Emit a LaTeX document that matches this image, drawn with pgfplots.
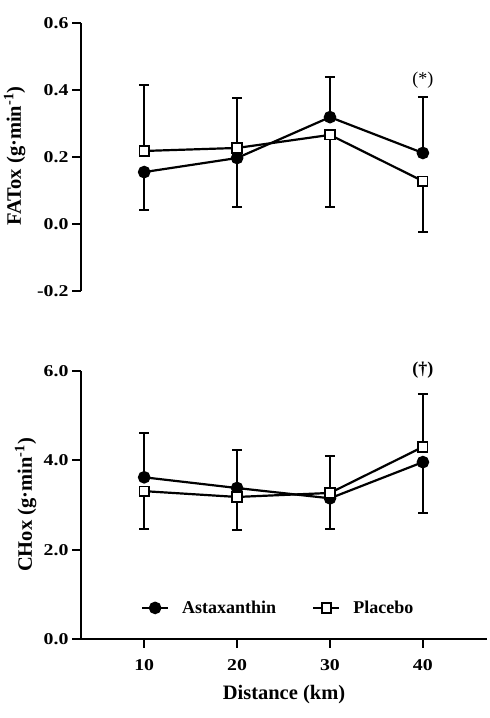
\documentclass[border=0pt]{standalone}
\usepackage{fontspec}
\setmainfont{Liberation Serif}
\newfontfamily\tickfont[FakeStretch=1.2]{Liberation Serif}
\usepackage{pgfplots}
\pgfplotsset{compat=1.18}

\pgfplotsset{
  panel/.style={
    scale only axis, width=406bp, height=268bp,
    xmin=3.2, xmax=46.9,
    clip=false,
    axis line style={line width=2.4bp, black},
    tick style={line width=2.2bp, black},
    major tick length=9bp,
    tick align=outside,
    ytick pos=left,
    ticklabel style={font=\tickfont\bfseries\fontsize{16.5bp}{19bp}\selectfont},
    yticklabel style={/pgf/number format/.cd, fixed, fixed zerofill, precision=1, assume math mode=true},
    xticklabel style={/pgf/number format/assume math mode=true},
    label style={font=\bfseries\fontsize{20.5bp}{24bp}\selectfont},
  },
  ast/.style={black, line width=2.2bp, mark=*, mark size=5.2bp, mark options={solid, fill=black}},
  pla/.style={black, line width=2.2bp, mark=square*, mark size=4.7bp, mark options={solid, fill=white, line width=1.8bp}},
  bars/.style={draw=none, forget plot, error bars/.cd, y explicit, y dir=#1,
    error bar style={draw=black, line width=2.2bp},
    error mark options={draw=black, line width=2.2bp, mark size=5bp, rotate=90}},
}

\begin{document}
\begin{tikzpicture}
\useasboundingbox (0,0) rectangle (490bp,718bp);

% FAT oxidation
\begin{axis}[panel,
  at={(81bp,427bp)}, anchor=south west,
  ymin=-0.2, ymax=0.6,
  ytick={-0.2,0,0.2,0.4,0.6},
  axis y line*=left, axis x line=none,
  ylabel={FATox (g·min\textsuperscript{-1})},
  ylabel style={at={(axis description cs:-0.148,0.504)}, anchor=base},
]
\addplot[bars=plus] coordinates {
  (10,0.218) +- (0,0.197)
  (20,0.227) +- (0,0.149)
  (30,0.319) +- (0,0.120)
  (40,0.212) +- (0,0.167)
};
\addplot[bars=minus] coordinates {
  (10,0.155) +- (0,0.113)
  (20,0.197) +- (0,0.146)
  (30,0.266) +- (0,0.215)
  (40,0.128) +- (0,0.152)
};
\addplot[ast] coordinates {(10,0.155) (20,0.197) (30,0.319) (40,0.212)};
\addplot[pla] coordinates {(10,0.218) (20,0.227) (30,0.266) (40,0.128)};
\node[font=\fontsize{18bp}{21bp}\selectfont] at (axis cs:40,0.43) {(*)};
\end{axis}

% CHO oxidation
\begin{axis}[panel,
  at={(81bp,79bp)}, anchor=south west,
  ymin=0, ymax=6,
  ytick={0,2,4,6},
  xtick={10,20,30,40},
  axis y line*=left, axis x line*=bottom,
  xtick pos=bottom,
  xticklabel style={yshift=-8bp},
  xlabel={Distance (km)},
  xlabel style={at={(axis description cs:0.5,-0.2276)}, anchor=base},
  ylabel={CHox (g·min\textsuperscript{-1})},
  ylabel style={at={(axis description cs:-0.1207,0.50)}, anchor=base},
  legend columns=2,
  legend style={at={(rel axis cs:0.14,0.116)}, anchor=west, draw=none, fill=none,
    font=\bfseries\fontsize{18bp}{21bp}\selectfont,
    /tikz/every odd column/.append style={column sep=11bp},
    /tikz/every even column/.append style={column sep=34bp}},
  legend image code/.code={\draw[mark repeat=2, mark phase=2] plot coordinates {(0bp,0bp) (13bp,0bp) (26bp,0bp)};},
]
\addplot[bars=plus] coordinates {
  (10,3.62) +- (0,0.99)
  (20,3.38) +- (0,0.85)
  (30,3.27) +- (0,0.82)
  (40,4.30) +- (0,1.18)
};
\addplot[bars=minus] coordinates {
  (10,3.31) +- (0,0.85)
  (20,3.18) +- (0,0.74)
  (30,3.15) +- (0,0.69)
  (40,3.96) +- (0,1.14)
};
\addplot[ast] coordinates {(10,3.62) (20,3.38) (30,3.15) (40,3.96)};
\addlegendentry{Astaxanthin}
\addplot[pla] coordinates {(10,3.31) (20,3.18) (30,3.27) (40,4.30)};
\addlegendentry{Placebo}
\node[font=\bfseries\fontsize{18bp}{21bp}\selectfont] at (axis cs:40,6.02) {(†)};
\end{axis}
\end{tikzpicture}
\end{document}
